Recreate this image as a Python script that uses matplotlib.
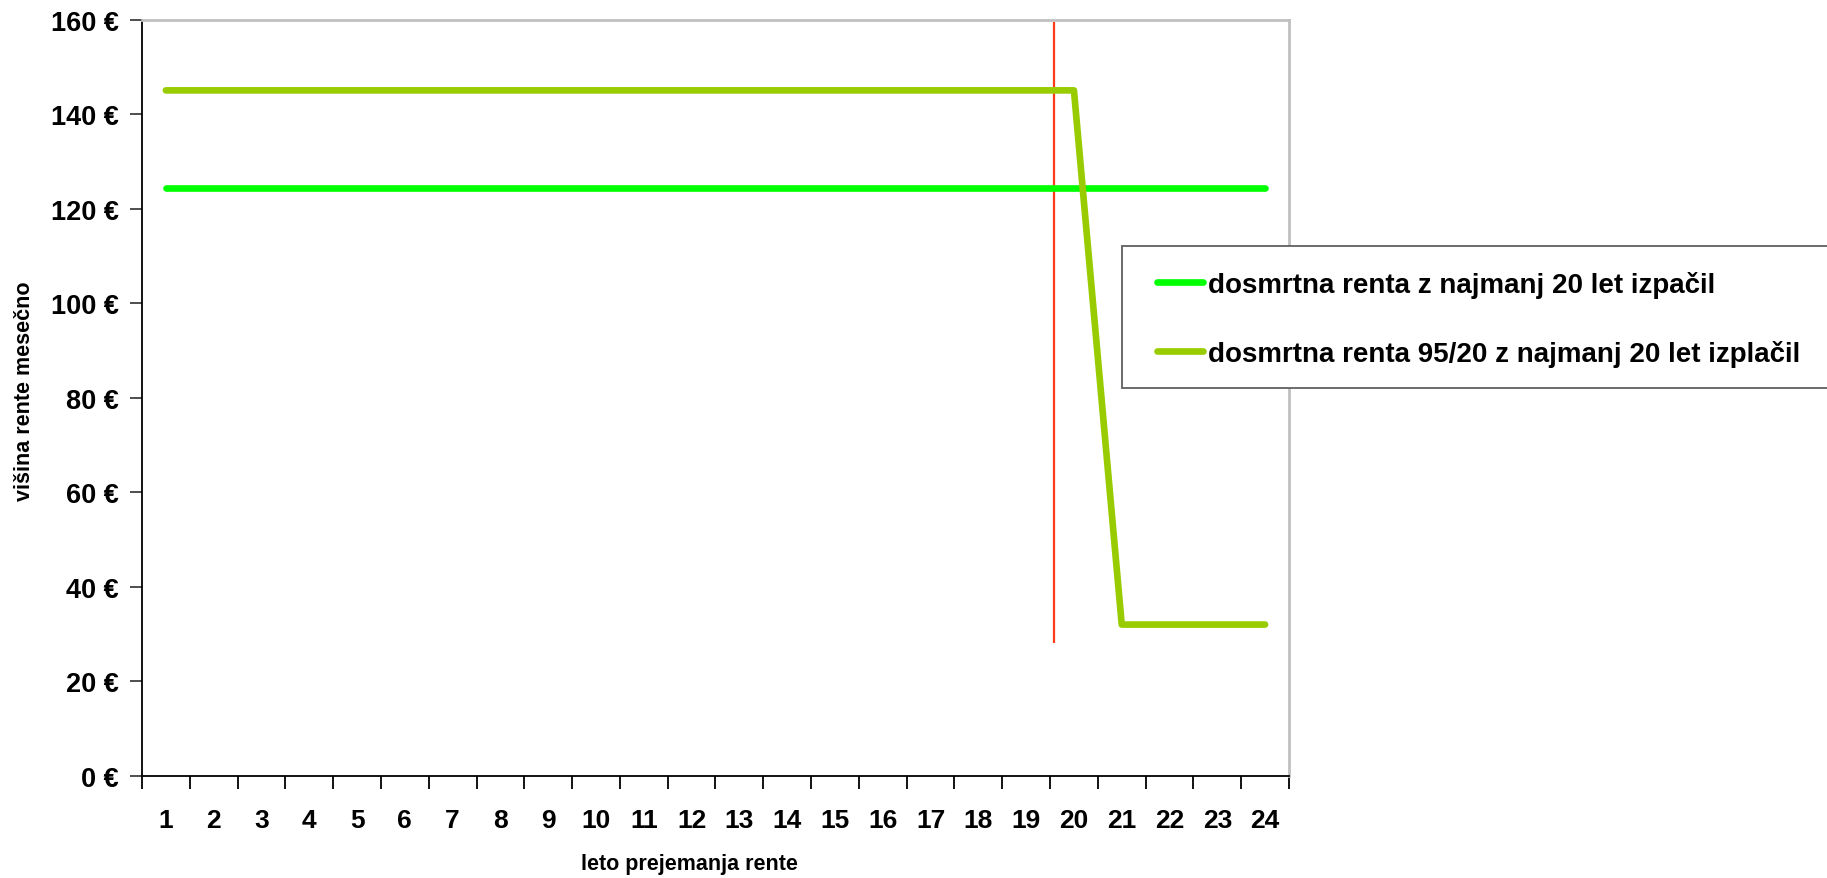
import matplotlib
matplotlib.use("Agg")
import matplotlib.pyplot as plt
from matplotlib.patches import Rectangle
from matplotlib.ticker import FixedLocator, NullFormatter, FixedFormatter
import numpy as np

plt.rcParams['font.family'] = ['Liberation Sans', 'DejaVu Sans']
plt.rcParams['font.weight'] = 'bold'

# data
years = list(range(1, 25))
renta_20 = [124.5] * 24
renta_95_20 = [145.1] * 20 + [32.0] * 4
label_20 = 'dosmrtna renta z najmanj 20 let izpačil'
label_95_20 = 'dosmrtna renta 95/20 z najmanj 20 let izplačil'
marker_x = 19.59
marker_y = (28.0, 159.5)
y_ticks = list(range(0, 161, 20))

W, H = 1827, 879
fig = plt.figure(figsize=(W / 100, H / 100), dpi=100)
ax = fig.add_axes([142 / W, 1 - 776.7 / H, (1289 - 142) / W, (776.7 - 21) / H])

ax.plot(years, renta_20, color='#00ff00', linewidth=4.8, solid_capstyle='round',
        solid_joinstyle='round', label=label_20, zorder=3)
ax.plot(years, renta_95_20, color='#99cc00', linewidth=4.8, solid_capstyle='round',
        solid_joinstyle='round', label=label_95_20, zorder=4)
ax.vlines(marker_x, marker_y[0], marker_y[1], color='#ff3b1a', linewidth=1.6, zorder=2)

ax.set_xlim(0.5, 24.5)
ax.set_ylim(0, 160)

# x axis: tick marks between categories, labels at centers
ax.xaxis.set_major_locator(FixedLocator(np.arange(0.5, 25, 1)))
ax.xaxis.set_major_formatter(NullFormatter())
ax.xaxis.set_minor_locator(FixedLocator(years))
ax.xaxis.set_minor_formatter(FixedFormatter([str(y) for y in years]))
ax.tick_params(axis='x', which='major', length=9, width=1.3, color='#000000', direction='out')
ax.tick_params(axis='x', which='minor', length=0, labelsize=19, pad=23.5)

ax.set_yticks(y_ticks)
ax.set_yticklabels([f'{v} €' for v in y_ticks])
ax.tick_params(axis='y', length=9, width=1.3, color='#404040', labelsize=19.5, pad=8)
for lab in ax.get_xticklabels(which='minor') + ax.get_yticklabels():
    lab.set_fontweight('bold')

for side in ['left', 'bottom']:
    ax.spines[side].set_color('#000000')
    ax.spines[side].set_linewidth(1.3)
for side in ['top', 'right']:
    ax.spines[side].set_color('#c0c0c0')
    ax.spines[side].set_linewidth(2)

ax.set_xlabel('leto prejemanja rente', fontsize=15.5, fontweight='bold')
ax.xaxis.set_label_coords(0.477, -0.1025)
ax.set_ylabel('višina rente mesečno', fontsize=15.5, fontweight='bold')
ax.yaxis.set_label_coords(-0.093, 0.51)

# legend box drawn separately so it runs off the right edge like the original
fig.patches.append(Rectangle((1122 / W, 1 - 389 / H), (1840 - 1122) / W, (389 - 247) / H,
                             transform=fig.transFigure, facecolor='white',
                             edgecolor='#606060', linewidth=1.3, zorder=5))
leg = fig.legend(loc='upper left',
                 bbox_to_anchor=(1157 / W, 1 - 272 / H),
                 frameon=False, prop={'weight': 'bold', 'size': 20},
                 handlelength=1.65, handletextpad=0.18, labelspacing=1.5,
                 borderpad=0, borderaxespad=0)
leg.set_zorder(6)

fig.savefig('out.png', dpi=100)
